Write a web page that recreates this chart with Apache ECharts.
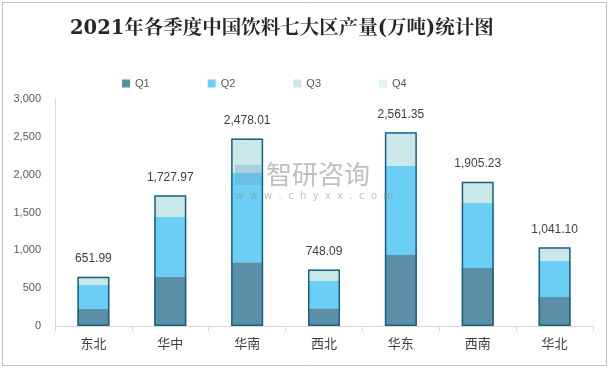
<!DOCTYPE html>
<html><head><meta charset="utf-8">
<script src="https://cdn.jsdelivr.net/npm/echarts@6/dist/echarts.min.js"></script>
<style>html,body{margin:0;padding:0;background:#fff}#c{width:610px;height:369px}</style>
</head><body><div id="c"></div>
<script>
const categories = ['东北','华中','华南','西北','华东','西南','华北'];
const q1 = [225, 648, 843, 234, 939, 767, 384];
const q2 = [318, 794, 1185, 361, 1177, 860, 476];
const q3 = [109.99, 285.97, 450.01, 153.09, 445.35, 278.23, 181.10];
const q4 = [0, 0, 0, 0, 0, 0, 0];
const totals = [651.99, 1727.97, 2478.01, 748.09, 2561.35, 1905.23, 1041.10];
const yTicks = [0, 500, 1000, 1500, 2000, 2500, 3000];

const fmt = v => Number(v).toLocaleString('en-US', {minimumFractionDigits: 2, maximumFractionDigits: 2});
const chart = echarts.init(document.getElementById('c'));
const seg = (name, data, color) => ({
  name, type: 'bar', stack: 'all', data, barWidth: 32,
  itemStyle: {color}, emphasis: {disabled: true}
});
chart.setOption({
  animation: false,
  title: {
    text: '2021年各季度中国饮料七大区产量(万吨)统计图',
    left: 65, top: 14,
    textStyle: {fontFamily: '"DejaVu Serif", "Noto Serif CJK SC", "Noto Sans CJK SC", serif', fontSize: 19.5, fontWeight: 'bold', color: '#262626'}
  },
  legend: {
    left: 117, top: 73, itemWidth: 8, itemHeight: 8, itemGap: 58, icon: 'rect',
    textStyle: {fontSize: 11, color: '#595959', fontFamily: 'Liberation Sans, Arial, sans-serif'},
    data: ['Q1','Q2','Q3','Q4']
  },
  grid: {left: 55, right: 17, top: 99, bottom: 43},
  xAxis: {
    type: 'category', data: categories,
    axisLine: {lineStyle: {color: '#d9d9d9'}},
    axisTick: {show: true, lineStyle: {color: '#d9d9d9'}, length: 5},
    axisLabel: {color: '#404040', fontSize: 13, margin: 11, fontFamily: '"Noto Sans CJK SC", sans-serif'}
  },
  yAxis: {
    type: 'value', min: yTicks[0], max: yTicks[yTicks.length-1], interval: 500,
    axisLine: {show: true, lineStyle: {color: '#d9d9d9'}},
    axisTick: {show: false},
    splitLine: {show: false},
    axisLabel: {color: '#595959', fontSize: 11, margin: 14, fontFamily: 'Liberation Sans, Arial, sans-serif',
      formatter: v => Number(v).toLocaleString('en-US')}
  },
  graphic: [
    {type: 'rect', shape: {x: 2.5, y: 2.5, width: 604, height: 363}, style: {fill: 'none', stroke: '#bfbfbf', lineWidth: 1}, silent: true, z: -1},
    {type: 'text', left: 266, top: 161, style: {text: '智研咨询', fill: 'rgba(140,140,140,0.55)', font: '26px "Noto Sans CJK SC", sans-serif'}, silent: true, z: 100},
    {type: 'text', left: 235, top: 191, style: {text: 'w  w  w  .  c  h  y  x  x  .  c  o  m', fill: 'rgba(140,140,140,0.55)', font: '10px "DejaVu Sans", sans-serif'}, silent: true, z: 100},
    {type: 'rect', left: 235, top: 165, shape: {width: 26, height: 20}, style: {fill: 'rgba(110,160,200,0.35)'}, silent: true, z: 100}
  ],
  series: [
    seg('Q1', q1, '#5b8fa8'),
    seg('Q2', q2, '#6bcff5'),
    seg('Q3', q3, '#cbe8e8'),
    seg('Q4', q4, '#dff1f9'),
    {
      name: 'total', type: 'bar', data: totals, barWidth: 32, barGap: '-100%', z: 5,
      itemStyle: {color: 'rgba(0,0,0,0)', borderColor: '#1b6185', borderWidth: 1.5},
      label: {show: true, position: 'top', distance: 12, color: '#404040', fontSize: 12,
        fontFamily: 'Liberation Sans, Arial, sans-serif', formatter: p => fmt(p.value)},
      emphasis: {disabled: true}
    }
  ]
});
</script></body></html>
